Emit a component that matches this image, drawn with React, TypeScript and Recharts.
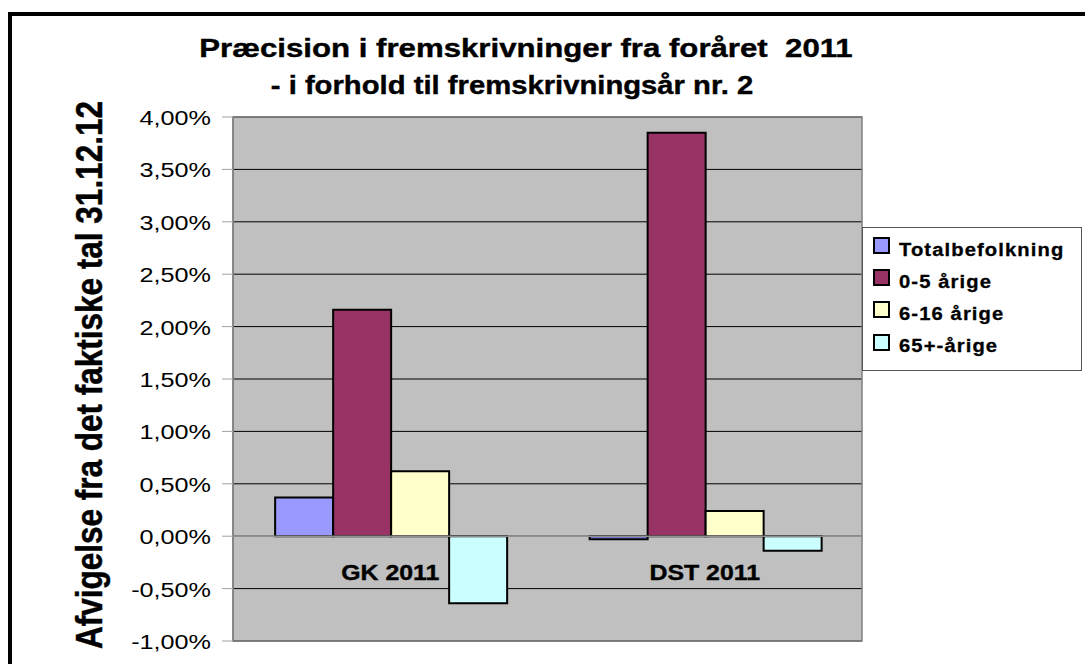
import React from 'react';
import { BarChart, Bar, XAxis, YAxis, CartesianGrid, ReferenceLine, ReferenceArea } from 'recharts';

const categories = ['GK 2011', 'DST 2011'];
const seriesNames = ['Totalbefolkning', '0-5 årige', '6-16 årige', '65+-årige'];
const totalbefolkning = [0.37, -0.03];
const aarige0to5 = [2.16, 3.85];
const aarige6to16 = [0.62, 0.24];
const aarige65plus = [-0.64, -0.14];
const yTicks = [-1, -0.5, 0, 0.5, 1, 1.5, 2, 2.5, 3, 3.5, 4];
const titleLines = ['Præcision i fremskrivninger fra foråret  2011', '- i forhold til fremskrivningsår nr. 2'];
const yAxisTitle = 'Afvigelse fra det faktiske tal 31.12.12';

const colors = ['#9999FF', '#993366', '#FFFFCC', '#CCFFFF'];
const keys = ['s0', 's1', 's2', 's3'];

const data = categories.map((c, i) => ({
  name: c,
  s0: totalbefolkning[i],
  s1: aarige0to5[i],
  s2: aarige6to16[i],
  s3: aarige65plus[i],
}));

const FONT = '"Liberation Sans", Arial, Helvetica, sans-serif';

const fmt = (v: number) => v.toFixed(2).replace('.', ',') + '%';

const YTick = (props: any) => {
  const { x, y, payload } = props;
  return (
    <g transform={`translate(${x},${y}) scale(1.2,1)`}>
      <text x={0} y={8} textAnchor="end" fontFamily={FONT} fontSize={21} fill="#000">
        {fmt(payload.value)}
      </text>
    </g>
  );
};

const XTick = (props: any) => {
  const { x, y, payload } = props;
  return (
    <g transform={`translate(${x},${y - 61}) scale(1.13,1)`}>
      <text x={0} y={0} textAnchor="middle" fontFamily={FONT} fontSize={22} fontWeight="bold" fill="#000" stroke="#000" strokeWidth={0.4}>
        {payload.value}
      </text>
    </g>
  );
};

const LegendBox = () => (
  <div style={{ position: 'absolute', left: 862, top: 227, width: 220, height: 144, background: '#fff', border: '1px solid #555', boxSizing: 'border-box' }}>
    {seriesNames.map((name, i) => {
      const rowTop = 9 + i * 32.2;
      return (
        <React.Fragment key={name}>
          <div style={{ position: 'absolute', left: 10, top: rowTop, width: 17, height: 17, background: colors[i], border: '2px solid #000', boxSizing: 'border-box' }} />
          <div style={{ position: 'absolute', left: 36, top: rowTop + 3.8, fontFamily: FONT, fontSize: 18, lineHeight: '18px', fontWeight: 'bold', letterSpacing: 1.0, whiteSpace: 'pre', transform: 'scale(1.12,1)', transformOrigin: 'left center', color: '#000', WebkitTextStroke: '0.3px #000' }}>
            {name}
          </div>
        </React.Fragment>
      );
    })}
  </div>
);

export default function App() {
  return (
    <div style={{ position: 'fixed', left: 0, top: 0, width: 1085, height: 664, overflow: 'hidden', background: '#fff' }}>
      <div style={{ position: 'absolute', left: 8, top: 12, width: 1200, height: 800, border: '4px solid #000', boxSizing: 'border-box' }} />
      <div style={{ position: 'absolute', left: 0, top: 0 }}>
        <BarChart
          width={1085}
          height={664}
          data={data}
          margin={{ top: 117, right: 223, bottom: 0, left: 153 }}
          barCategoryGap="13.4%"
          barGap={0}
        >
          <CartesianGrid vertical={false} stroke="#000" strokeWidth={1} fill="#C0C0C0" fillOpacity={1} />
          <ReferenceArea y1={-1} y2={4} fill="none" stroke="#808080" strokeWidth={1.5} ifOverflow="visible" />
          <XAxis dataKey="name" height={23} axisLine={false} tickLine={false} tickSize={0} tickMargin={0} tick={<XTick />} interval={0} />
          <YAxis
            width={80}
            domain={[-1, 4]}
            ticks={yTicks}
            interval={0}
            allowDataOverflow
            axisLine={{ stroke: '#808080', strokeWidth: 1.5 }}
            tickLine={{ stroke: '#A0A0A0', strokeWidth: 1 }}
            tickSize={11}
            tickMargin={11}
            tick={<YTick />}
          />
          <ReferenceLine y={0} stroke="#909090" strokeWidth={1.5} />
          {keys.map((k, i) => (
            <Bar key={k} dataKey={k} name={seriesNames[i]} fill={colors[i]} stroke="#000" strokeWidth={2} isAnimationActive={false} />
          ))}
        </BarChart>
      </div>
      <LegendBox />
      <svg width={1085} height={664} style={{ position: 'absolute', left: 0, top: 0, pointerEvents: 'none' }}>
        <g transform="translate(526,57) scale(1.2,1)">
          <text x={0} y={0} textAnchor="middle" fontFamily={FONT} fontSize={26} fontWeight="bold" stroke="#000" strokeWidth={0.4} style={{ whiteSpace: 'pre' }}>
            {titleLines[0]}
          </text>
        </g>
        <g transform="translate(512,94) scale(1.125,1)">
          <text x={0} y={0} textAnchor="middle" fontFamily={FONT} fontSize={26} fontWeight="bold" stroke="#000" strokeWidth={0.4} style={{ whiteSpace: 'pre' }}>
            {titleLines[1]}
          </text>
        </g>
        <g transform="translate(102,375) scale(1.2,1) rotate(-90)">
          <text x={0} y={0} textAnchor="middle" fontFamily={FONT} fontSize={31.5} fontWeight="bold" stroke="#000" strokeWidth={0.4}>
            {yAxisTitle}
          </text>
        </g>
      </svg>
    </div>
  );
}
